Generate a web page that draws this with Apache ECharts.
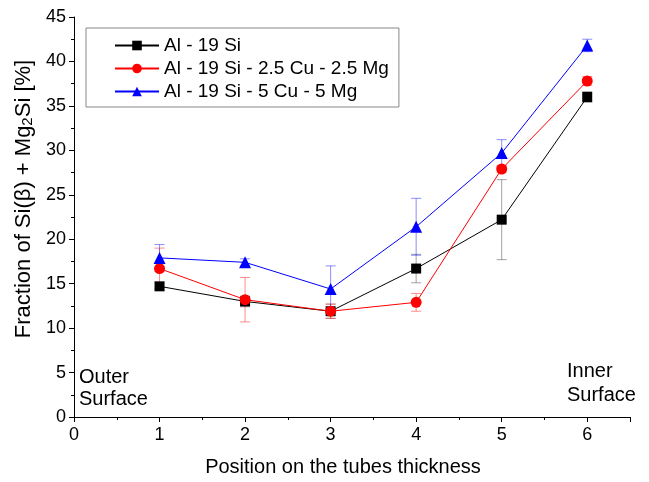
<!DOCTYPE html>
<html>
<head>
<meta charset="utf-8">
<script src="https://cdn.jsdelivr.net/npm/echarts@6/dist/echarts.min.js"></script>
<style>
  html, body { margin: 0; padding: 0; background: #fff; }
  #chart { width: 649px; height: 482px; }
</style>
</head>
<body>
<div id="chart"></div>
<script>
// Positions across the tube wall
const positions = [1, 2, 3, 4, 5, 6];

// Phase fraction (%) and standard deviation per alloy
const alSi = [14.7, 13.0, 11.9, 16.7, 22.2, 36.0];
const alSiErr = [0.4, 0.6, 0.8, 1.6, 4.5, 0.6];

const alSiCuMg25 = [16.7, 13.2, 11.9, 12.9, 27.9, 37.8];
const alSiCuMg25Err = [2.3, 2.5, 0.8, 1.0, 0.4, 0.5];

const alSiCuMg5 = [17.9, 17.4, 14.4, 21.4, 29.7, 41.8];
const alSiCuMg5Err = [1.5, 0.4, 2.6, 3.2, 1.5, 0.7];

const seriesNames = ['Al - 19 Si', 'Al - 19 Si - 2.5 Cu - 2.5 Mg', 'Al - 19 Si - 5 Cu - 5 Mg'];
const xTicks = ['0', '1', '2', '3', '4', '5', '6'];

const FONT = 'Liberation Sans, Arial, sans-serif';

function pairs(ys) {
  return positions.map((x, i) => [x, ys[i]]);
}

function errorSeries(ys, errs, color) {
  return {
    type: 'custom',
    silent: true,
    z: 1,
    data: positions.map((x, i) => [x, ys[i] - errs[i], ys[i] + errs[i]]),
    renderItem: function (params, api) {
      const lo = api.coord([api.value(0), api.value(1)]);
      const hi = api.coord([api.value(0), api.value(2)]);
      const hw = 5;
      const style = { stroke: color, lineWidth: 1, opacity: 0.55 };
      return {
        type: 'group',
        children: [
          { type: 'line', shape: { x1: lo[0], y1: lo[1], x2: hi[0], y2: hi[1] }, style: style },
          { type: 'line', shape: { x1: lo[0] - hw, y1: lo[1], x2: lo[0] + hw, y2: lo[1] }, style: style },
          { type: 'line', shape: { x1: hi[0] - hw, y1: hi[1], x2: hi[0] + hw, y2: hi[1] }, style: style }
        ]
      };
    }
  };
}

function lineSeries(name, ys, color, symbol, size) {
  return {
    name: name,
    type: 'line',
    z: 3,
    data: pairs(ys),
    symbol: symbol,
    symbolSize: size,
    showAllSymbol: true,
    lineStyle: { color: color, width: 1 },
    itemStyle: { color: color, borderWidth: 0 },
    emphasis: { disabled: true }
  };
}

const chart = echarts.init(document.getElementById('chart'), null, { renderer: 'canvas' });

chart.setOption({
  animation: false,
  backgroundColor: '#fff',
  textStyle: { fontFamily: FONT },
  grid: { left: 74, right: 19, top: 17, bottom: 62, containLabel: false },
  legend: {
    left: 86, top: 28,
    orient: 'vertical',
    data: seriesNames,
    itemWidth: 44, itemHeight: 12, itemGap: 4,
    padding: [8, 10, 6, 28],
    borderColor: '#888', borderWidth: 1,
    backgroundColor: '#fff',
    textStyle: { fontSize: 19, color: '#000', fontFamily: FONT }
  },
  xAxis: {
    type: 'value', min: 0, max: 6.5, interval: 1,
    name: 'Position on the tubes thickness',
    nameLocation: 'middle', nameGap: 40,
    nameTextStyle: { fontSize: 20, color: '#000', fontFamily: FONT, padding: [0, 18, 0, 0] },
    axisLine: { lineStyle: { color: '#000', width: 1 } },
    axisTick: { length: 5, lineStyle: { color: '#000' } },
    minorTick: { show: true, splitNumber: 2, length: 3, lineStyle: { color: '#000' } },
    splitLine: { show: false },
    axisLabel: {
      fontSize: 18, color: '#000', margin: 9, showMaxLabel: false,
      formatter: v => (Number.isInteger(v) ? xTicks[v] : '')
    }
  },
  yAxis: {
    type: 'value', min: 0, max: 45, interval: 5,
    name: '{t|Fraction of Si(β) + Mg}{s|2}{t|Si [%]}',
    nameLocation: 'middle', nameGap: 38, nameRotate: 90,
    nameTextStyle: {
      fontSize: 22, color: '#000', fontFamily: FONT, padding: [0, 0, 0, 36],
      rich: {
        t: { fontSize: 22, color: '#000', fontFamily: FONT },
        s: { fontSize: 15, color: '#000', fontFamily: FONT, verticalAlign: 'bottom', padding: [8, 0, 0, 0] }
      }
    },
    axisLine: { show: true, lineStyle: { color: '#000', width: 1 } },
    axisTick: { length: 5, lineStyle: { color: '#000' } },
    minorTick: { show: true, splitNumber: 2, length: 3, lineStyle: { color: '#000' } },
    splitLine: { show: false },
    axisLabel: { fontSize: 18, color: '#000', margin: 8 }
  },
  graphic: [
    { type: 'text', left: 79, top: 366, style: { text: 'Outer\nSurface', fontSize: 20, lineHeight: 22, fill: '#000', fontFamily: FONT } },
    { type: 'text', left: 567, top: 359, style: { text: 'Inner\nSurface', fontSize: 20, lineHeight: 24, fill: '#000', fontFamily: FONT } }
  ],
  series: [
    errorSeries(alSi, alSiErr, '#555'),
    errorSeries(alSiCuMg25, alSiCuMg25Err, '#ff3030'),
    errorSeries(alSiCuMg5, alSiCuMg5Err, '#3030ff'),
    lineSeries(seriesNames[0], alSi, '#000000', 'rect', 10),
    lineSeries(seriesNames[1], alSiCuMg25, '#ff0000', 'circle', 11),
    lineSeries(seriesNames[2], alSiCuMg5, '#0000ff', 'triangle', 12)
  ]
});
</script>
</body>
</html>
